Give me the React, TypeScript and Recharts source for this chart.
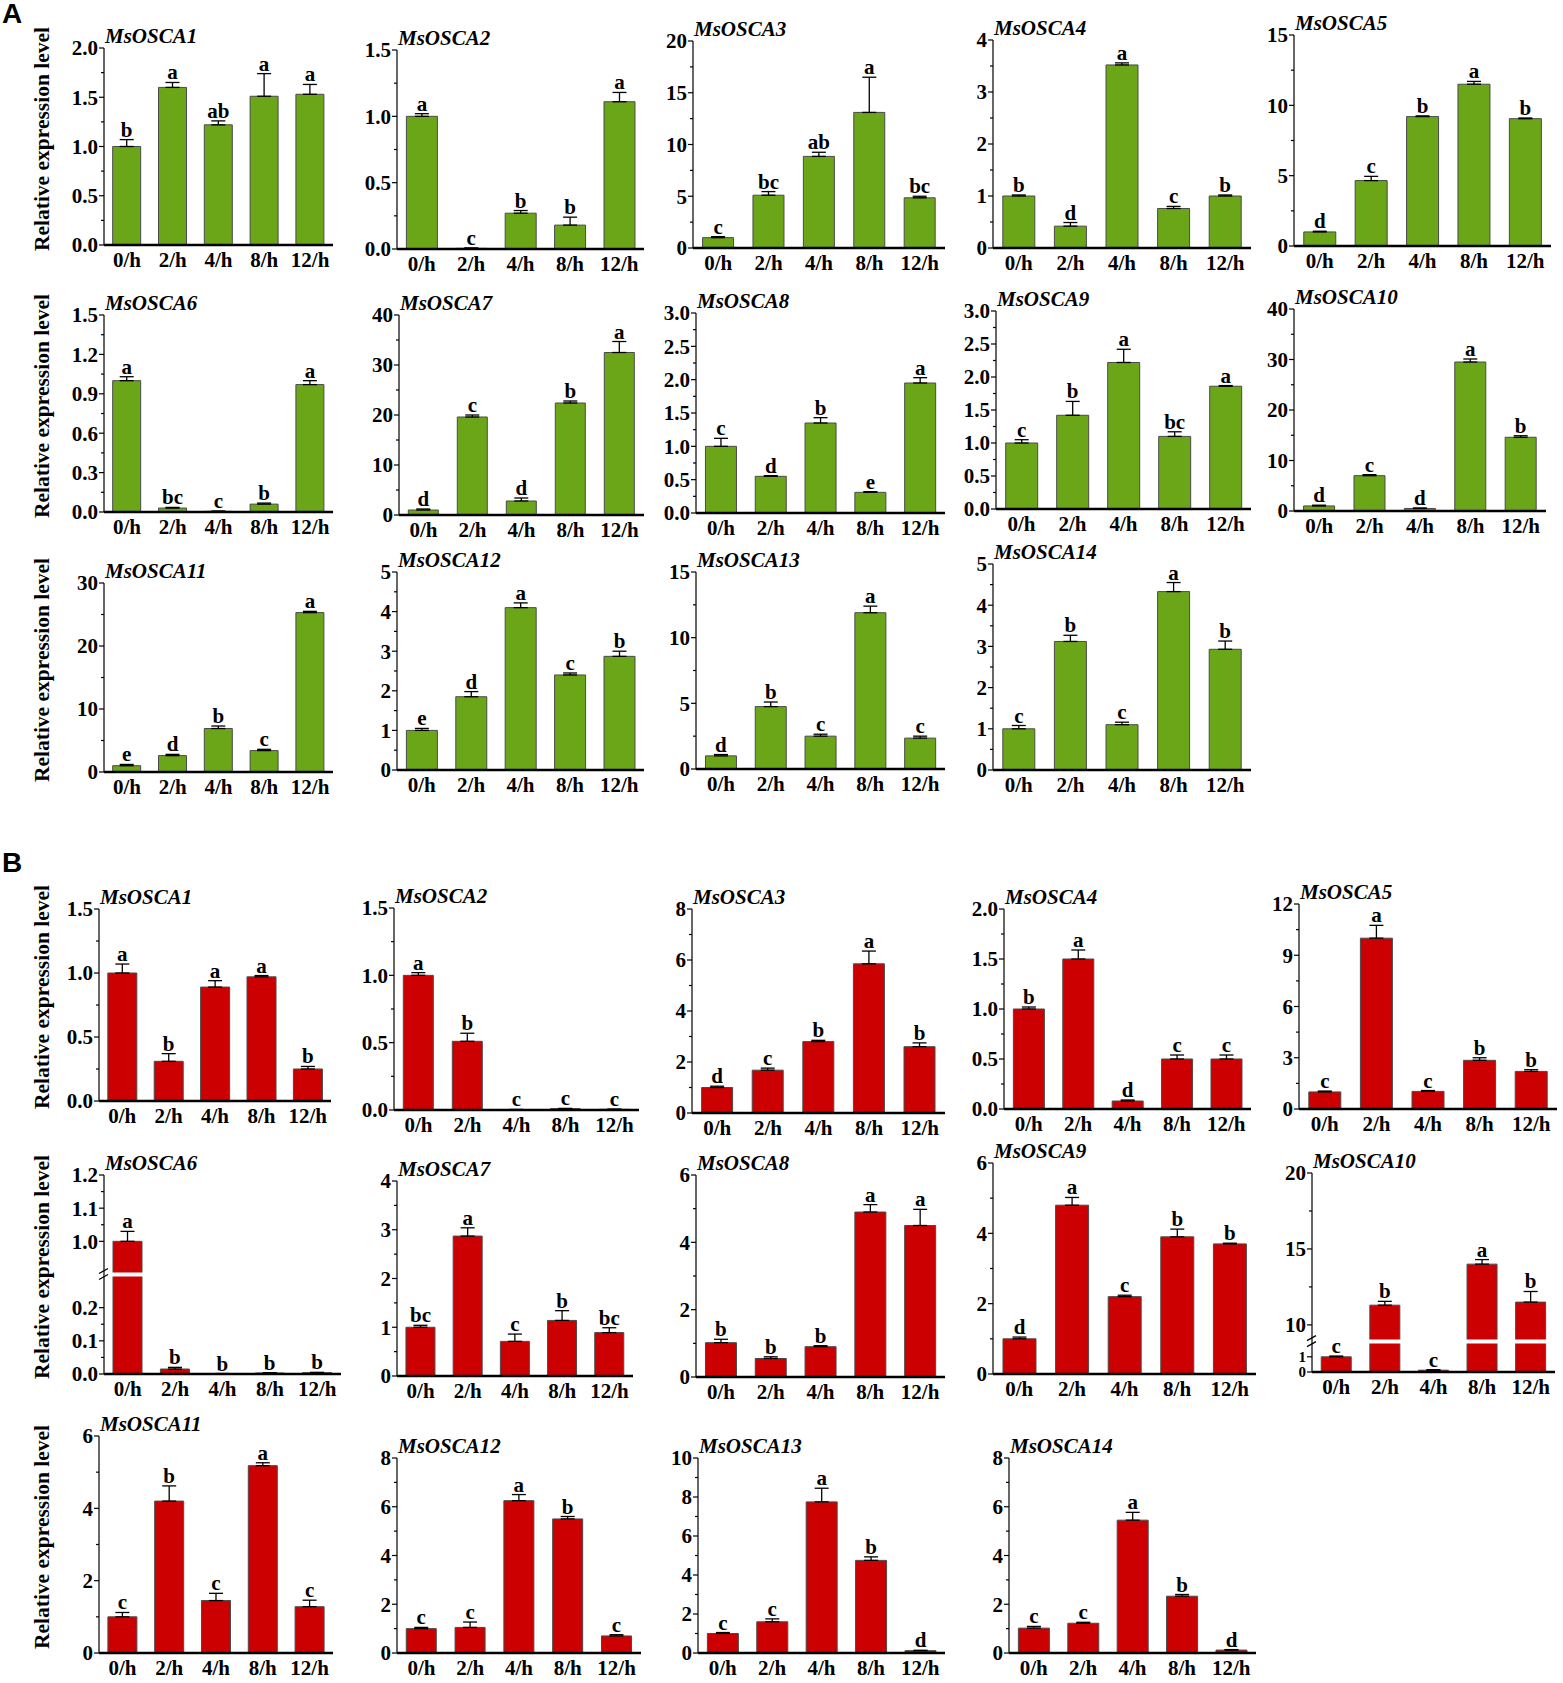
import React from "react";
import { BarChart, Bar, XAxis, YAxis, ErrorBar, LabelList, ReferenceLine } from "recharts";

const TIMES = ["0/h", "2/h", "4/h", "8/h", "12/h"];
const GENES = [
  "MsOSCA1", "MsOSCA2", "MsOSCA3", "MsOSCA4", "MsOSCA5", "MsOSCA6", "MsOSCA7",
  "MsOSCA8", "MsOSCA9", "MsOSCA10", "MsOSCA11", "MsOSCA12", "MsOSCA13", "MsOSCA14",
];

// A: green panels
const A_VALUES = [
  [1.0, 1.6, 1.22, 1.51, 1.53],
  [1.0, 0.005, 0.27, 0.18, 1.11],
  [1.0, 5.1, 8.85, 13.1, 4.85],
  [1.0, 0.42, 3.52, 0.76, 1.0],
  [1.0, 4.65, 9.2, 11.5, 9.05],
  [1.0, 0.03, 0.005, 0.06, 0.97],
  [1.0, 19.6, 2.8, 22.4, 32.5],
  [1.0, 0.55, 1.35, 0.31, 1.95],
  [1.0, 1.42, 2.22, 1.1, 1.86],
  [1.0, 7.0, 0.5, 29.5, 14.6],
  [1.0, 2.6, 6.9, 3.4, 25.3],
  [1.0, 1.85, 4.1, 2.4, 2.87],
  [1.0, 4.75, 2.5, 11.9, 2.35],
  [1.0, 3.12, 1.1, 4.33, 2.93],
];
const A_ERRORS = [
  [0.07, 0.05, 0.04, 0.23, 0.1],
  [0.02, 0.003, 0.02, 0.06, 0.07],
  [0.1, 0.35, 0.4, 3.4, 0.15],
  [0.02, 0.07, 0.04, 0.04, 0.02],
  [0.05, 0.3, 0.05, 0.2, 0.05],
  [0.03, 0.005, 0.002, 0.008, 0.03],
  [0.2, 0.4, 0.6, 0.4, 2.2],
  [0.12, 0.01, 0.08, 0.01, 0.08],
  [0.05, 0.21, 0.2, 0.07, 0.01],
  [0.15, 0.2, 0.1, 0.6, 0.3],
  [0.2, 0.2, 0.4, 0.2, 0.2],
  [0.05, 0.13, 0.12, 0.05, 0.13],
  [0.1, 0.35, 0.15, 0.5, 0.15],
  [0.08, 0.15, 0.06, 0.22, 0.2],
];
const A_LETTERS = [
  ["b", "a", "ab", "a", "a"],
  ["a", "c", "b", "b", "a"],
  ["c", "bc", "ab", "a", "bc"],
  ["b", "d", "a", "c", "b"],
  ["d", "c", "b", "a", "b"],
  ["a", "bc", "c", "b", "a"],
  ["d", "c", "d", "b", "a"],
  ["c", "d", "b", "e", "a"],
  ["c", "b", "a", "bc", "a"],
  ["d", "c", "d", "a", "b"],
  ["e", "d", "b", "c", "a"],
  ["e", "d", "a", "c", "b"],
  ["d", "b", "c", "a", "c"],
  ["c", "b", "c", "a", "b"],
];
const A_TICKS = [
  [0, 0.5, 1.0, 1.5, 2.0],
  [0, 0.5, 1.0, 1.5],
  [0, 5, 10, 15, 20],
  [0, 1, 2, 3, 4],
  [0, 5, 10, 15],
  [0, 0.3, 0.6, 0.9, 1.2, 1.5],
  [0, 10, 20, 30, 40],
  [0, 0.5, 1.0, 1.5, 2.0, 2.5, 3.0],
  [0, 0.5, 1.0, 1.5, 2.0, 2.5, 3.0],
  [0, 10, 20, 30, 40],
  [0, 10, 20, 30],
  [0, 1, 2, 3, 4, 5],
  [0, 5, 10, 15],
  [0, 1, 2, 3, 4, 5],
];

// B: red panels
const B_VALUES = [
  [1.0, 0.31, 0.89, 0.97, 0.25],
  [1.0, 0.51, 0.003, 0.01, 0.005],
  [1.0, 1.68, 2.8, 5.85, 2.6],
  [1.0, 1.5, 0.08, 0.5, 0.5],
  [1.0, 10.0, 1.03, 2.85, 2.2],
  [1.0, 0.015, 0.001, 0.003, 0.004],
  [1.0, 2.87, 0.71, 1.14, 0.89],
  [1.02, 0.55, 0.9, 4.9, 4.5],
  [1.0, 4.8, 2.2, 3.9, 3.7],
  [1.0, 11.3, 0.12, 14.0, 11.5],
  [1.0, 4.2, 1.45, 5.18, 1.28],
  [1.0, 1.05, 6.25, 5.5, 0.7],
  [1.0, 1.6, 7.75, 4.75, 0.12],
  [1.02, 1.22, 5.45, 2.33, 0.12],
];
const B_ERRORS = [
  [0.07, 0.06, 0.05, 0.01, 0.02],
  [0.02, 0.06, 0.001, 0.002, 0.001],
  [0.05, 0.08, 0.05, 0.5, 0.15],
  [0.02, 0.09, 0.01, 0.04, 0.04],
  [0.05, 0.75, 0.05, 0.15, 0.1],
  [0.03, 0.005, 0.0005, 0.001, 0.001],
  [0.04, 0.17, 0.15, 0.2, 0.1],
  [0.1, 0.05, 0.03, 0.22, 0.48],
  [0.05, 0.22, 0.04, 0.22, 0.02],
  [0.05, 0.25, 0.03, 0.3, 0.7],
  [0.12, 0.42, 0.2, 0.08, 0.18],
  [0.05, 0.22, 0.25, 0.1, 0.05],
  [0.05, 0.15, 0.7, 0.18, 0.02],
  [0.07, 0.04, 0.32, 0.07, 0.02],
];
const B_LETTERS = [
  ["a", "b", "a", "a", "b"],
  ["a", "b", "c", "c", "c"],
  ["d", "c", "b", "a", "b"],
  ["b", "a", "d", "c", "c"],
  ["c", "a", "c", "b", "b"],
  ["a", "b", "b", "b", "b"],
  ["bc", "a", "c", "b", "bc"],
  ["b", "b", "b", "a", "a"],
  ["d", "a", "c", "b", "b"],
  ["c", "b", "c", "a", "b"],
  ["c", "b", "c", "a", "c"],
  ["c", "c", "a", "b", "c"],
  ["c", "c", "a", "b", "d"],
  ["c", "c", "a", "b", "d"],
];
const B_TICKS = [
  [0, 0.5, 1.0, 1.5],
  [0, 0.5, 1.0, 1.5],
  [0, 2, 4, 6, 8],
  [0, 0.5, 1.0, 1.5, 2.0],
  [0, 3, 6, 9, 12],
  [0, 0.1, 0.2, 1.0, 1.1, 1.2],
  [0, 1, 2, 3, 4],
  [0, 2, 4, 6],
  [0, 2, 4, 6],
  [0, 1, 10, 15, 20],
  [0, 2, 4, 6],
  [0, 2, 4, 6, 8],
  [0, 2, 4, 6, 8, 10],
  [0, 2, 4, 6, 8],
];
// broken axes: [top of lower segment, bottom of upper segment]
const B_BREAKS: Record<number, [number, number]> = { 5: [0.3, 0.9], 9: [2, 8.9] };

// page layout: [y-axis x, top tick y, baseline y, x-axis end]
const A_BOX = [
  [104, 48, 245, 333], [397, 50, 249, 644], [693, 41, 248, 945], [993, 40, 248, 1251], [1294, 35, 246, 1551],
  [104, 315, 512, 333], [399, 315, 515, 644], [696, 313, 513, 945], [996, 311, 509, 1251], [1294, 309, 511, 1546],
  [104, 583, 772, 333], [397, 572, 770, 644], [696, 572, 769, 945], [993, 564, 770, 1251],
];
const B_BOX = [
  [99, 909, 1101, 331], [394, 908, 1110, 639], [692, 909, 1113, 945], [1004, 909, 1109, 1251], [1299, 904, 1109, 1557],
  [104, 1175, 1374, 341], [397, 1181, 1376, 633], [696, 1175, 1377, 945], [993, 1163, 1374, 1256], [1312, 1173, 1372, 1555],
  [99, 1436, 1653, 333], [397, 1458, 1653, 641], [698, 1458, 1653, 945], [1009, 1458, 1653, 1256],
];

const GREEN = "#6aa618";
const RED = "#cc0000";
const SERIF = "'Liberation Serif', 'Times New Roman', serif";
const FS = 21;
const YW = 60;
const MT = 30;
const XH = 34;

type PanelProps = {
  gene: string;
  values: number[];
  errors: number[];
  letters: string[];
  ticks: number[];
  brk?: [number, number];
  box: number[];
  color: string;
};

function Panel({ gene, values, errors, letters, ticks, brk, box, color }: PanelProps) {
  const [axisX, topY, baseY, endX] = box;
  const plotW = endX - axisX;
  const plotH = baseY - topY;
  const toDisp = (v: number) => (brk && v >= brk[1] ? v - (brk[1] - brk[0]) : v);

  const data = TIMES.map((t, i) => ({
    time: t,
    value: toDisp(values[i]),
    err: errors[i],
    sig: letters[i],
  }));

  const decimals = ticks.some((t) => Math.abs(t - Math.round(t)) > 1e-9) ? 1 : 0;
  const top = toDisp(ticks[ticks.length - 1]);
  const pxPerUnit = plotH / top;
  const majors = ticks.map((t, i) => {
    const d = toDisp(t);
    const next = i < ticks.length - 1 ? toDisp(ticks[i + 1]) : Infinity;
    const prev = i > 0 ? toDisp(ticks[i - 1]) : -Infinity;
    const tight = Math.min(next - d, d - prev) * pxPerUnit < 20;
    return { d, label: t.toFixed(decimals), size: tight ? 15 : FS };
  });
  const step = ticks[ticks.length - 1] - ticks[ticks.length - 2];
  const minors: number[] = [];
  for (let i = 0; i < ticks.length - 1; i++) {
    const gap = ticks[i + 1] - ticks[i];
    if (Math.abs(gap - step) < 1e-9) minors.push(toDisp(ticks[i] + gap / 2));
  }
  const allTicks = [...majors.map((m) => m.d), ...minors, ...(brk ? [brk[0]] : [])].sort((a, b) => a - b);

  const renderTick = (p: any) => {
    const { x, y, payload } = p;
    const v = payload.value;
    if (brk && Math.abs(v - brk[0]) < 1e-9) {
      return (
        <g>
          <line x1={x - 5} y1={y - 1} x2={x + 4} y2={y - 6} stroke="#000" strokeWidth={1.3} />
          <line x1={x - 5} y1={y + 5} x2={x + 4} y2={y} stroke="#000" strokeWidth={1.3} />
        </g>
      );
    }
    const m = majors.find((mm) => Math.abs(mm.d - v) < 1e-9);
    return (
      <g>
        <line x1={x} x2={x - (m ? 5 : 3)} y1={y} y2={y} stroke="#000" strokeWidth={1.2} />
        {m && (
          <text x={x - 6} y={y} dy="0.35em" textAnchor="end" fontFamily={SERIF} fontWeight="bold" fontSize={m.size} fill="#000">
            {m.label}
          </text>
        )}
      </g>
    );
  };

  return (
    <div style={{ position: "absolute", left: axisX - YW, top: topY - MT }}>
      <div
        style={{
          position: "absolute",
          left: YW + 1,
          top: MT - 22,
          fontFamily: SERIF,
          fontStyle: "italic",
          fontWeight: "bold",
          fontSize: FS,
          lineHeight: `${FS}px`,
          whiteSpace: "nowrap",
        }}
      >
        {gene}
      </div>
      <BarChart
        width={YW + plotW + 4}
        height={MT + plotH + XH}
        data={data}
        margin={{ top: MT, right: 4, left: 0, bottom: 0 }}
        barCategoryGap="19%"
      >
        <XAxis
          dataKey="time"
          height={XH}
          interval={0}
          tickLine={false}
          tickSize={0}
          tickMargin={7}
          axisLine={{ stroke: "#000", strokeWidth: 2.5 }}
          tick={{ fontFamily: SERIF, fontWeight: "bold", fontSize: FS, fill: "#000" }}
        />
        <YAxis
          width={YW}
          type="number"
          domain={[0, top]}
          ticks={allTicks}
          interval={0}
          tickLine={false}
          tickSize={0}
          tickMargin={0}
          axisLine={{ stroke: "#000", strokeWidth: 1.2 }}
          tick={renderTick}
        />
        <Bar dataKey="value" stackId="s" fill={color} stroke="#4a4a4a" strokeWidth={1} isAnimationActive={false}>
          <ErrorBar
            dataKey={(d: any) => [0, d.err]}
            width={7}
            stroke="#000"
            strokeWidth={1.3}
            direction="y"
            isAnimationActive={false}
          />
        </Bar>
        <Bar dataKey="err" stackId="s" fill="none" stroke="none" isAnimationActive={false}>
          <LabelList
            dataKey="sig"
            position="top"
            offset={3}
            fill="#000"
            fontFamily={SERIF}
            fontWeight="bold"
            fontSize={FS}
          />
        </Bar>
        {brk && <ReferenceLine y={brk[0]} stroke="#fff" strokeWidth={4} />}
      </BarChart>
    </div>
  );
}

function YLabel({ box }: { box: number[] }) {
  const cy = (box[1] + box[2]) / 2 - 8;
  return (
    <div
      style={{
        position: "absolute",
        left: 42 - 160,
        top: cy - 12,
        width: 320,
        height: 24,
        lineHeight: "24px",
        textAlign: "center",
        transform: "rotate(-90deg)",
        fontFamily: SERIF,
        fontWeight: "bold",
        fontSize: 21.5,
        whiteSpace: "nowrap",
        pointerEvents: "none",
      }}
    >
      Relative expression level
    </div>
  );
}

export default function App() {
  return (
    <div style={{ position: "absolute", left: 0, top: 0, width: 1563, height: 1683, background: "#fff" }}>
      <div style={{ position: "absolute", left: 2, top: 0, fontFamily: "'Liberation Sans', Arial, sans-serif", fontWeight: "bold", fontSize: 28, lineHeight: "28px" }}>
        A
      </div>
      <div style={{ position: "absolute", left: 2, top: 849, fontFamily: "'Liberation Sans', Arial, sans-serif", fontWeight: "bold", fontSize: 28, lineHeight: "28px" }}>
        B
      </div>
      {GENES.map((g, i) => (
        <Panel
          key={`a${i}`}
          gene={g}
          values={A_VALUES[i]}
          errors={A_ERRORS[i]}
          letters={A_LETTERS[i]}
          ticks={A_TICKS[i]}
          box={A_BOX[i]}
          color={GREEN}
        />
      ))}
      {GENES.map((g, i) => (
        <Panel
          key={`b${i}`}
          gene={g}
          values={B_VALUES[i]}
          errors={B_ERRORS[i]}
          letters={B_LETTERS[i]}
          ticks={B_TICKS[i]}
          brk={B_BREAKS[i]}
          box={B_BOX[i]}
          color={RED}
        />
      ))}
      {/* y-axis titles drawn last so no panel paints over them */}
      {[0, 5, 10].map((i) => (
        <YLabel key={`ya${i}`} box={A_BOX[i]} />
      ))}
      {[0, 5, 10].map((i) => (
        <YLabel key={`yb${i}`} box={B_BOX[i]} />
      ))}
    </div>
  );
}
